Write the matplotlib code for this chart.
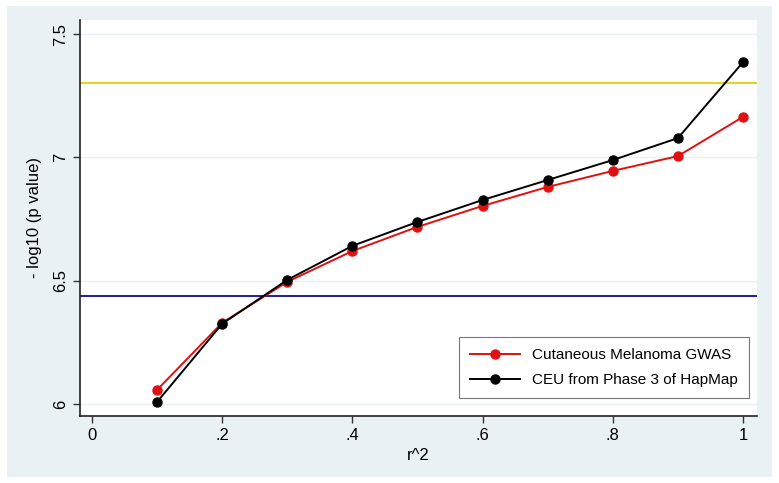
import numpy as np
import matplotlib.pyplot as plt
from matplotlib.patches import Rectangle

plt.rcParams['font.family'] = ['Liberation Sans', 'DejaVu Sans']

# data
r2 = [0.1, 0.2, 0.3, 0.4, 0.5, 0.6, 0.7, 0.8, 0.9, 1.0]
melanoma = [6.057, 6.329, 6.495, 6.620, 6.718, 6.803, 6.880, 6.945, 7.005, 7.164]
hapmap = [6.008, 6.325, 6.503, 6.641, 6.738, 6.827, 6.908, 6.989, 7.078, 7.386]
genome_wide = 7.3
suggestive = 6.438

xticks = [0, 0.2, 0.4, 0.6, 0.8, 1.0]
xlabels = ['0', '.2', '.4', '.6', '.8', '1']
yticks = [6, 6.5, 7, 7.5]
ylabels = ['6', '6.5', '7', '7.5']

W, H = 779, 483
fig = plt.figure(figsize=(W/100, H/100), dpi=100)
fig.patch.set_facecolor('white')
# stata-like outer panel
panel = Rectangle((7/W, 6/H), (772-7)/W, (477-6)/H,
                  transform=fig.transFigure, facecolor='#eaf1f4',
                  edgecolor='none', zorder=-10)
fig.add_artist(panel)

ax = fig.add_axes([80/W, 1-416/H, (757-80)/W, (416-20)/H])
ax.set_facecolor('white')

ax.axhline(genome_wide, color='#e3d21c', lw=1.4, zorder=2)
ax.axhline(suggestive, color='#1c1ca0', lw=1.4, zorder=2)

ax.plot(r2, melanoma, color='#e01010', lw=1.4, marker='o', ms=6.5,
        label='Cutaneous Melanoma GWAS', zorder=3)
ax.plot(r2, hapmap, color='black', lw=1.4, marker='o', ms=6.5,
        label='CEU from Phase 3 of HapMap', zorder=4)

ax.set_xlim(-0.0184, 1.0215)
ax.set_ylim(5.951, 7.557)
ax.set_xticks(xticks)
ax.set_xticklabels(xlabels, fontsize=12)
ax.set_yticks(yticks)
ax.set_yticklabels(ylabels, fontsize=12, rotation=90, va='center')
ax.grid(axis='y', color='#eaf1f4', lw=1.0, zorder=1)
ax.set_axisbelow(True)
ax.tick_params(direction='out', length=5, color='#333333', width=1)

for s in ['top', 'right']:
    ax.spines[s].set_visible(False)
for s in ['left', 'bottom']:
    ax.spines[s].set_color('#222222')
    ax.spines[s].set_linewidth(1.2)

ax.set_xlabel('r^2', fontsize=12, labelpad=4)
ax.set_ylabel('- log10 (p value)', fontsize=12, labelpad=8)

leg = ax.legend(loc='lower right', bbox_to_anchor=(0.988, 0.045), fontsize=11,
                frameon=True, fancybox=False, borderpad=0.7, borderaxespad=0,
                handlelength=3.3, labelspacing=0.75)
leg.get_frame().set_edgecolor('#555555')
leg.get_frame().set_linewidth(0.8)

fig.savefig('out.png', dpi=100)
